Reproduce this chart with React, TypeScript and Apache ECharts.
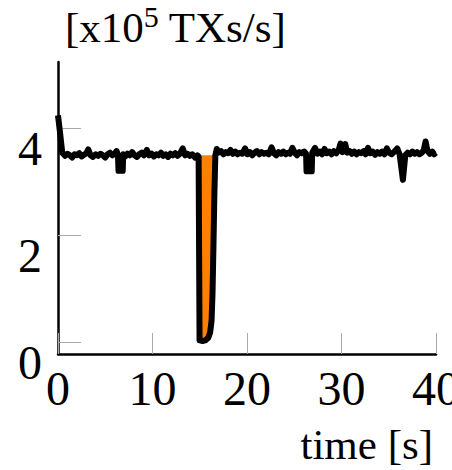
import React, { useEffect, useRef } from "react";
import * as echarts from "echarts";

// Throughput before the outage [s, x10^5 TXs/s]
const beforeTime = [0, 0.2, 0.45, 0.75, 1.0, 1.25, 1.5, 1.75, 2.0, 2.25, 2.5, 2.75, 3.0, 3.2, 3.45, 3.7, 4.0, 4.25, 4.5, 4.75, 5.0, 5.25, 5.5, 5.75, 6.0, 6.2, 6.35, 6.4, 6.85, 6.9, 7.1, 7.35, 7.6, 7.85, 8.1, 8.35, 8.6, 8.85, 9.1, 9.4, 9.65, 9.9, 10.15, 10.4, 10.65, 10.9, 11.15, 11.4, 11.65, 11.9, 12.15, 12.4, 12.65, 12.9, 13.2, 13.45, 13.7, 13.95, 14.2, 14.5, 14.75, 14.88];
const beforeValue = [4.25, 3.95, 3.55, 3.49, 3.53, 3.5, 3.46, 3.52, 3.5, 3.54, 3.48, 3.51, 3.54, 3.61, 3.5, 3.47, 3.52, 3.49, 3.53, 3.5, 3.46, 3.52, 3.55, 3.5, 3.53, 3.58, 3.5, 3.21, 3.21, 3.52, 3.48, 3.53, 3.5, 3.56, 3.5, 3.47, 3.52, 3.55, 3.5, 3.6, 3.5, 3.53, 3.48, 3.52, 3.5, 3.55, 3.49, 3.52, 3.47, 3.53, 3.5, 3.54, 3.49, 3.53, 3.63, 3.5, 3.53, 3.49, 3.52, 3.46, 3.5, 3.48];

// Outage dip
const dipTime = [14.98, 15.3, 15.6, 15.9, 16.1, 16.25, 16.35, 16.45, 16.55, 16.65];
const dipValue = [0.03, 0.02, 0.03, 0.08, 0.18, 0.4, 0.9, 1.8, 2.8, 3.5];
const lossLevel = 3.5;

// After the outage
const afterTime = [16.8, 17.0, 17.25, 17.5, 17.75, 18.0, 18.25, 18.5, 18.75, 19.0, 19.25, 19.5, 19.8, 20.05, 20.3, 20.55, 20.8, 21.05, 21.3, 21.55, 21.8, 22.05, 22.3, 22.6, 22.85, 23.1, 23.35, 23.6, 23.85, 24.1, 24.35, 24.55, 24.8, 25.05, 25.3, 25.55, 25.8, 26.05, 26.25, 26.3, 26.85, 26.9, 27.2, 27.45, 27.7, 27.95, 28.2, 28.45, 28.7, 28.95, 29.2, 29.45, 29.7, 29.9, 30.1, 30.4, 30.6, 30.85, 31.1, 31.35, 31.6, 31.85, 32.1, 32.35, 32.55, 32.8, 33.05, 33.3, 33.55, 33.8, 34.05, 34.3, 34.55, 34.8, 35.05, 35.3, 35.6, 35.9, 36.15, 36.5, 36.75, 37.0, 37.25, 37.5, 37.75, 38.0, 38.25, 38.5, 38.7, 38.9, 39.1, 39.35, 39.6, 39.8, 40.0];
const afterValue = [3.62, 3.55, 3.58, 3.52, 3.56, 3.54, 3.6, 3.53, 3.57, 3.52, 3.55, 3.53, 3.63, 3.52, 3.56, 3.5, 3.55, 3.58, 3.52, 3.56, 3.53, 3.55, 3.52, 3.65, 3.54, 3.5, 3.56, 3.53, 3.57, 3.52, 3.55, 3.53, 3.64, 3.55, 3.5, 3.56, 3.54, 3.57, 3.53, 3.2, 3.2, 3.55, 3.64, 3.53, 3.57, 3.52, 3.62, 3.54, 3.57, 3.52, 3.58, 3.54, 3.6, 3.72, 3.56, 3.71, 3.55, 3.58, 3.53, 3.57, 3.52, 3.56, 3.54, 3.58, 3.52, 3.64, 3.54, 3.57, 3.51, 3.56, 3.53, 3.57, 3.52, 3.63, 3.55, 3.52, 3.57, 3.63, 3.52, 3.04, 3.5, 3.55, 3.52, 3.57, 3.53, 3.56, 3.52, 3.55, 3.6, 3.76, 3.58, 3.53, 3.57, 3.52, 3.55];

const yTickValues = [0, 2, 4];
const xTickValues = [0, 10, 20, 30, 40];

const FONT = "'Liberation Serif', 'DejaVu Serif', serif";

export default function App() {
  const ref = useRef<HTMLDivElement>(null);
  useEffect(() => {
    if (!ref.current) return;
    const chart = echarts.init(ref.current, undefined, { renderer: "svg" });
    const pairs = (t: number[], v: number[]) => t.map((x, i) => [x, v[i]]);
    const mainData = [
      ...pairs(beforeTime, beforeValue),
      ...pairs(dipTime, dipValue),
      ...pairs(afterTime, afterValue),
    ];
    const dipData = pairs(dipTime, dipValue);
    chart.setOption({
      animation: false,
      backgroundColor: "#ffffff",
      grid: {
        left: 58,
        right: 16,
        top: 62,
        bottom: 116,
        containLabel: false,
        outerBoundsMode: "none",
      },
      title: {
        text: "{a|[x10}{s|5}{a| TXs/s]}",
        left: 60,
        top: 0,
        textStyle: {
          fontFamily: FONT,
          fontSize: 43,
          fontWeight: "normal",
          color: "#000",
          rich: {
            a: { fontFamily: FONT, fontSize: 43, lineHeight: 44, color: "#000", verticalAlign: "bottom" },
            s: {
              fontFamily: FONT,
              fontSize: 30,
              lineHeight: 30,
              color: "#000",
              verticalAlign: "bottom",
              padding: [0, 0, 18, 0],
            },
          },
        },
      },
      graphic: [
        {
          type: "text",
          right: 19,
          top: 423,
          style: { text: "time [s]", font: `43px ${FONT}`, fill: "#000" },
        },
      ],
      xAxis: {
        type: "value",
        min: 0,
        max: 40,
        interval: 10,
        axisLine: { show: true, onZero: false, lineStyle: { color: "#000", width: 2.5 } },
        axisTick: {
          show: true,
          inside: true,
          length: 21,
          lineStyle: { color: "#aaaaaa", width: 1 },
          customValues: xTickValues,
        },
        axisLabel: {
          show: true,
          margin: 10,
          fontFamily: FONT,
          fontSize: 48,
          color: "#000",
          hideOverlap: false,
          customValues: xTickValues,
        },
        splitLine: { show: false },
      },
      yAxis: {
        type: "value",
        min: -0.225,
        max: 5.25,
        axisLine: { show: true, onZero: false, lineStyle: { color: "#000", width: 2.5 } },
        axisTick: {
          show: true,
          inside: true,
          length: 23,
          lineStyle: { color: "#aaaaaa", width: 1 },
          customValues: yTickValues,
        },
        axisLabel: {
          show: true,
          margin: 16,
          fontFamily: FONT,
          fontSize: 48,
          lineHeight: 40,
          verticalAlign: "top",
          color: "#000",
          hideOverlap: false,
          customValues: yTickValues,
        },
        splitLine: { show: false },
      },
      series: [
        {
          type: "line",
          data: dipData,
          showSymbol: false,
          symbol: "none",
          z: 1,
          lineStyle: { width: 0, color: "#ff8000" },
          areaStyle: { color: "#ff8000", opacity: 1, origin: lossLevel },
        },
        {
          type: "line",
          data: mainData,
          showSymbol: false,
          symbol: "none",
          z: 2,
          lineStyle: { width: 6, color: "#000", join: "round" },
        },
      ],
    });
    return () => chart.dispose();
  }, []);
  return (
    <div
      ref={ref}
      style={{ position: "absolute", left: 0, top: 0, width: 452, height: 470 }}
    />
  );
}
